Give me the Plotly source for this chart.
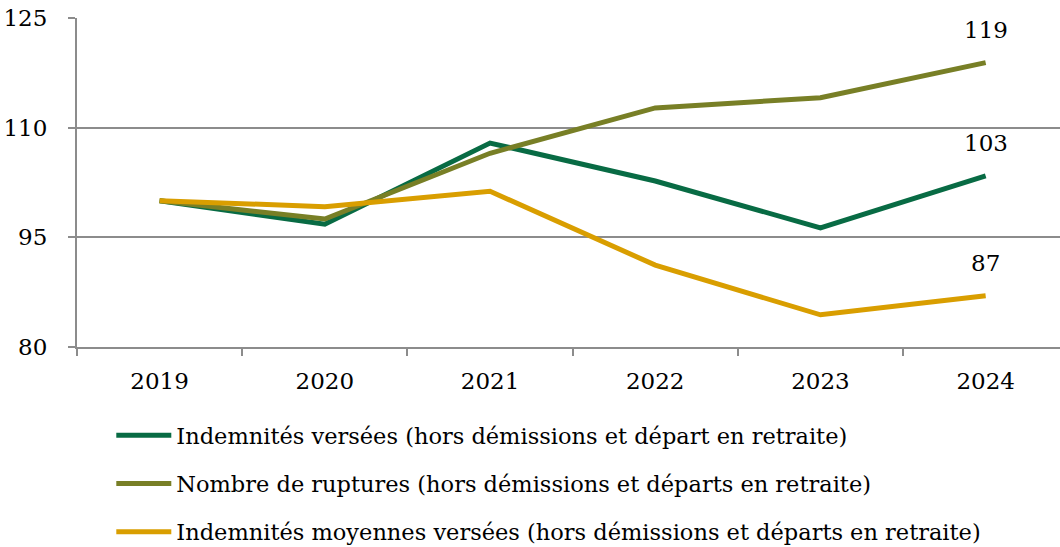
import plotly.graph_objects as go

years = ["2019", "2020", "2021", "2022", "2023", "2024"]
indemnites = [100, 96.8, 107.9, 102.7, 96.3, 103.4]
ruptures = [100, 97.5, 106.5, 112.7, 114.1, 118.9]
moyennes = [100, 99.2, 101.3, 91.2, 84.4, 87.0]

names = ["Indemnités versées (hors démissions et départ en retraite)",
         "Nombre de ruptures (hors démissions et départs en retraite)",
         "Indemnités moyennes versées (hors démissions et départs en retraite)"]
colors = ["#086b44", "#787f26", "#d99e00"]
series = [indemnites, ruptures, moyennes]

font = "DejaVu Serif"

fig = go.Figure()
for i, s in enumerate(series):
    fig.add_trace(go.Scatter(x=years, y=s, mode="lines", name=names[i],
                             legendgroup=str(i),
                             line=dict(color=colors[i], width=5)))
    fig.add_annotation(x=len(years) - 1, y=s[-1], xref="x", yref="y",
                       text=f"{s[-1]:.0f}", showarrow=False,
                       yshift=33, font=dict(family=font, size=23, color="black"))

fig.update_layout(
    width=1060, height=547,
    margin=dict(l=77, r=0, t=18, b=200, autoexpand=False),
    plot_bgcolor="white", paper_bgcolor="white",
    font=dict(family=font, size=23, color="black"),
    showlegend=True,
    legend=dict(orientation="v", xref="container", yref="container",
                x=0.105, y=0.243, xanchor="left", yanchor="top",
                tracegroupgap=16, itemwidth=55,
                font=dict(family=font, size=22.5)),
)
fig.update_xaxes(type="category", range=[-0.5, 5.45],
                 showline=True, linecolor="#8c8c8c", linewidth=2,
                 ticks="outside", tickson="boundaries", ticklen=7, tickcolor="#8c8c8c",
                 tickwidth=2, showgrid=False, ticklabelstandoff=12, tickangle=0)
fig.update_yaxes(range=[80, 125], tickvals=[80, 95, 110, 125],
                 showline=True, linecolor="#8c8c8c", linewidth=2,
                 ticks="outside", ticklen=7, tickcolor="#8c8c8c", tickwidth=2,
                 showgrid=True, gridcolor="#8c8c8c", gridwidth=2,
                 zeroline=False, ticklabelstandoff=16)

# drop the default body margin so the figure fills the window
fig.write_html("out.html", config={"displayModeBar": False},
               post_script="document.body.style.margin='0';")
